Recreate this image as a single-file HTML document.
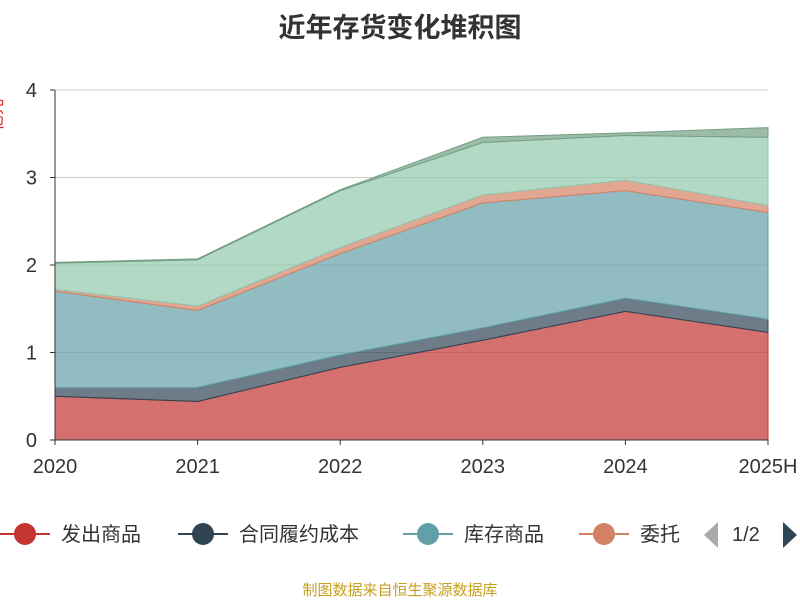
<!DOCTYPE html>
<html><head><meta charset="utf-8"><style>
body{margin:0;background:#fff;width:800px;height:600px;overflow:hidden;font-family:"Liberation Sans","Noto Sans CJK SC",sans-serif}
</style></head><body>
<svg id="c" width="800" height="600" xmlns="http://www.w3.org/2000/svg">
<text x="400" y="37" text-anchor="middle" font-size="27" font-weight="bold" fill="#333" font-family="Liberation Sans, Noto Sans CJK SC, sans-serif">近年存货变化堆积图</text>
<text transform="translate(2,115) rotate(-90)" text-anchor="middle" font-size="16" fill="#e02020" font-family="Liberation Sans, Noto Sans CJK SC, sans-serif">亿元</text>
<g id="grid"></g><g id="areas"></g><g id="axes"></g>
<g id="legend" font-family="Liberation Sans, Noto Sans CJK SC, sans-serif" font-size="20" fill="#333"></g>
<text x="400" y="595" text-anchor="middle" font-size="15" fill="#c8a020" font-family="Liberation Sans, Noto Sans CJK SC, sans-serif">制图数据来自恒生聚源数据库</text>
</svg>
<script>
const categories=["2020","2021","2022","2023","2024","2025H"];
const yTicks=[0,1,2,3,4];
const seriesNames=["发出商品","合同履约成本","库存商品","委托加工物资","原材料","其他"];
const faChuShangPin=[0.5,0.44,0.83,1.14,1.47,1.23];
const heTongLvYue=[0.1,0.16,0.14,0.14,0.15,0.15];
const kuCunShangPin=[1.1,0.88,1.16,1.43,1.23,1.22];
const weiTuoJiaGong=[0.02,0.05,0.07,0.09,0.12,0.08];
const yuanCaiLiao=[0.3,0.53,0.65,0.6,0.51,0.78];
const qiTa=[0.01,0.01,0.01,0.06,0.03,0.11];
const series=[faChuShangPin,heTongLvYue,kuCunShangPin,weiTuoJiaGong,yuanCaiLiao,qiTa];
const colors=["#c23531","#2f4554","#61a0a8","#d48265","#91c7ae","#749f83"];
const NS="http://www.w3.org/2000/svg";
const x0=55,x1=768,y0=440,y4=90;
const xs=i=>x0+i*(x1-x0)/(categories.length-1);
const ys=v=>y0-v*(y0-y4)/4;
function mk(t,a,p){const e=document.createElementNS(NS,t);for(const k in a)e.setAttribute(k,a[k]);document.getElementById(p).appendChild(e);return e;}
yTicks.forEach(t=>{
 if(t>0){const l=mk('line',{x1:x0,x2:x1,y1:ys(t),y2:ys(t),stroke:'#ccc'},'grid');}
 const tx=mk('text',{x:x0-18,y:ys(t)+7,'text-anchor':'end','font-size':20,fill:'#333'},'axes');tx.textContent=t;
 
 const tk=mk('line',{x1:x0-5,x2:x0,y1:ys(t),y2:ys(t),stroke:'#333'},'axes');
});
let base=categories.map(()=>0);
series.forEach((s,k)=>{
 const top=base.map((b,i)=>b+s[i]);
 let d='M'+top.map((v,i)=>xs(i)+','+ys(v)).join(' L');
 for(let i=categories.length-1;i>=0;i--)d+=' L'+xs(i)+','+ys(base[i]);
 const p=mk('path',{d:d+'Z',fill:colors[k],'fill-opacity':0.7,stroke:colors[k],'stroke-width':1},'areas');
 
 base=top;
});
const ax=mk('line',{x1:x0,x2:x1,y1:y0,y2:y0,stroke:'#333'},'axes');
const ay=mk('line',{x1:x0,x2:x0,y1:y0,y2:y4,stroke:'#333'},'axes');
categories.forEach((c,i)=>{
 const tk=mk('line',{x1:xs(i),x2:xs(i),y1:y0,y2:y0+5,stroke:'#333'},'axes');
 const t=mk('text',{x:xs(i),y:y0+33,'text-anchor':'middle','font-size':20,fill:'#333'},'axes');t.textContent=c;
 
});
const lx=[25,203,428,604];const ltxt=["发出商品","合同履约成本","库存商品","委托"];
ltxt.forEach((n,i)=>{
 const g=mk('g',{},'legend');
 const l=document.createElementNS(NS,'line');l.setAttribute('x1',lx[i]-25);l.setAttribute('x2',lx[i]+25);l.setAttribute('y1',534);l.setAttribute('y2',534);l.setAttribute('stroke',colors[i]);l.setAttribute('stroke-width',2);g.appendChild(l);
 const c=document.createElementNS(NS,'circle');c.setAttribute('cx',lx[i]);c.setAttribute('cy',534);c.setAttribute('r',11);c.setAttribute('fill',colors[i]);g.appendChild(c);
 const t=document.createElementNS(NS,'text');t.setAttribute('x',lx[i]+36);t.setAttribute('y',541);t.textContent=n;g.appendChild(t);
});
const pg=mk('text',{x:732,y:541,'font-size':20},'legend');pg.textContent="1/2";
const pl=mk('path',{d:'M718,522 L704,535 L718,548Z',fill:'#aaa'},'legend');
const pr=mk('path',{d:'M783,522 L797,535 L783,548Z',fill:'#2f4554'},'legend');
</script>
</body></html>
